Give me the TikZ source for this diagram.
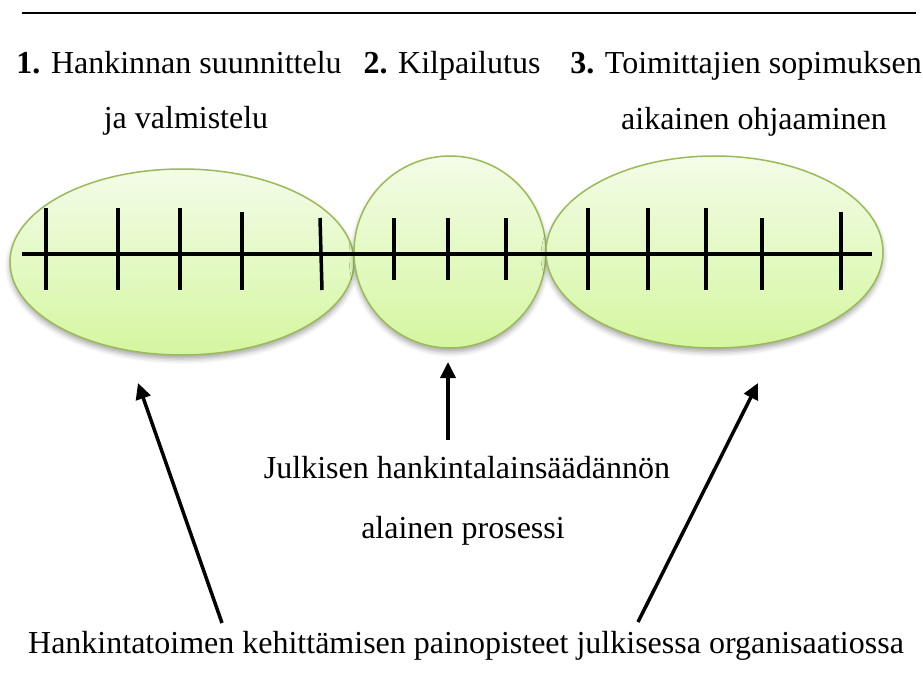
\documentclass[tikz,border=0pt]{standalone}
\usepackage{fontspec}
\setmainfont{Liberation Serif}
\usetikzlibrary{shapes.geometric,arrows.meta,shadows.blur}

\definecolor{blobedge}{HTML}{9BBB59}
\definecolor{blobtop}{HTML}{F3FCE8}
\definecolor{blobbottom}{HTML}{D5F6A0}

\tikzset{
  blob/.style={draw=blobedge, line width=1.5pt, top color=blobtop,
    bottom color=blobbottom, inner sep=0pt,
    blur shadow={shadow xshift=0pt, shadow yshift=-4pt,
      shadow blur radius=5pt, shadow opacity=35}},
  oval/.style={blob, ellipse},
  roundblob/.style={blob, circle},
  label/.style={font=\fontsize{32}{38}\selectfont, inner sep=0pt, anchor=base},
  axisline/.style={line width=4pt},
  tick/.style={line width=3.5pt},
  rule/.style={line width=2pt},
  link/.style={line width=3.5pt, -{Triangle[length=16pt,width=15pt]}}
}

\begin{document}
\begin{tikzpicture}[x=1pt,y=-1pt]
  \useasboundingbox (0,0) rectangle (923,695);

  % top rule
  \coordinate (ruleL) at (22,13);
  \coordinate (ruleR) at (916,13);
  \draw[rule] (ruleL) -- (ruleR);

  % phase headings
  \node[label] (h1a) at (179,74) {\textbf{1.} Hankinnan suunnittelu};
  \node[label] (h1b) at (186,129) {ja valmistelu};
  \node[label] (h2)  at (452,74) {\textbf{2.} Kilpailutus};
  \node[label] (h3a) at (746,74) {\textbf{3.} Toimittajien sopimuksen};
  \node[label] (h3b) at (754,130) {aikainen ohjaaminen};

  % phase bubbles
  \node[oval, minimum width=344pt, minimum height=186pt] (p1) at (182,262) {};
  \node[roundblob, minimum size=192pt] (p2) at (450,252) {};
  \node[oval, minimum width=337pt, minimum height=192pt] (p3) at (714.5,252) {};

  % time axis with step ticks
  \coordinate (axL) at (22,254);
  \coordinate (axR) at (872,254);
  \draw[axisline] (axL) -- (axR);

  \draw[tick] (46,208) -- (46,290);
  \draw[tick] (118,208) -- (118,290);
  \draw[tick] (180,208) -- (180,290);
  \draw[tick] (242,212) -- (242,290);
  \draw[tick] (320,218) -- (322,290);

  \draw[tick] (394,218) -- (394,280);
  \draw[tick] (448,218) -- (448,280);
  \draw[tick] (506,218) -- (506,280);

  \draw[tick] (588,208) -- (588,290);
  \draw[tick] (648,208) -- (648,290);
  \draw[tick] (706,208) -- (706,290);
  \draw[tick] (762,218) -- (762,290);
  \draw[tick] (841,212) -- (841,290);

  % lower captions
  \node[label] (m1) at (467,478) {Julkisen hankintalainsäädännön};
  \node[label] (m2) at (463,538) {alainen prosessi};
  \node[label] (foot) at (466,653) {Hankintatoimen kehittämisen painopisteet julkisessa organisaatiossa};

  % arrows
  \coordinate (aLtail) at (222,623);
  \coordinate (aLtip) at (138,383);
  \coordinate (aMtail) at (448,440);
  \coordinate (aMtip) at (448,362);
  \coordinate (aRtail) at (638,622);
  \coordinate (aRtip) at (758,383);
  \draw[link] (aLtail) -- (aLtip);
  \draw[link] (aMtail) -- (aMtip);
  \draw[link] (aRtail) -- (aRtip);
\end{tikzpicture}
\end{document}
